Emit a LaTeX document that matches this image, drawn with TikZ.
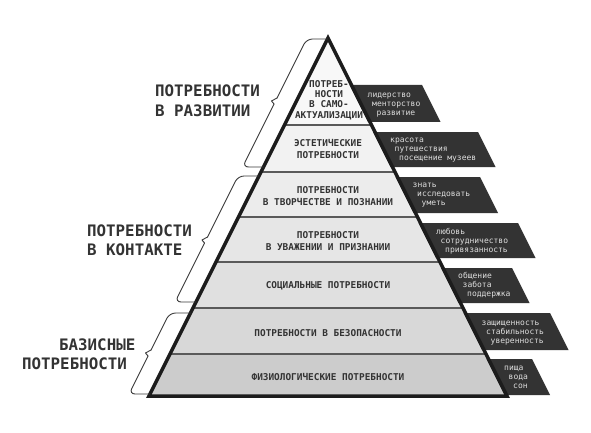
\documentclass[tikz,border=0pt]{standalone}
\usepackage{fontspec}
\newfontfamily\dmono{DejaVu Sans Mono}
\newcommand\layerfont{\dmono\bfseries\fontsize{9.4}{12}\selectfont}
\newcommand\toplayerfont{\dmono\bfseries\fontsize{9.4}{10.3}\selectfont}
\newcommand\tagfont{\dmono\fontsize{8}{9}\selectfont}
\newcommand\titlefont{\dmono\bfseries\fontsize{15.8}{19}\selectfont}
\newcommand\XL[1]{328-0.5*(#1-38)}
\newcommand\XR[1]{328+0.5*(#1-38)}
\definecolor{cA}{HTML}{F8F8F8}
\definecolor{cB}{HTML}{F2F2F2}
\definecolor{cC}{HTML}{ECECEC}
\definecolor{cD}{HTML}{E6E6E6}
\definecolor{cE}{HTML}{E0E0E0}
\definecolor{cF}{HTML}{D8D8D8}
\definecolor{cG}{HTML}{CCCCCC}
\definecolor{sepgray}{HTML}{5A5A5A}
\definecolor{outline}{HTML}{1C1C1C}
\definecolor{boxdark}{HTML}{333333}
\definecolor{tagtext}{HTML}{DDDDDD}
\definecolor{textdark}{HTML}{333333}
\definecolor{bracegray}{HTML}{3A3A3A}
\begin{document}
\begin{tikzpicture}[x=1pt,y=-1pt,
  sep/.style={draw=sepgray, line width=1.3pt},
  lbl/.style={font=\layerfont, text=textdark, align=center, inner sep=0pt},
  tag/.style={font=\tagfont, text=tagtext, anchor=base west, inner sep=0pt},
  ttl/.style={font=\titlefont, text=textdark, anchor=base west, inner sep=0pt},
  bracearm/.style={draw=bracegray, line width=0.9pt, rounded corners=6pt, line cap=round},
  bracetip/.style={draw=bracegray, line width=0.9pt, line cap=round, line join=round}
]
\useasboundingbox[fill=white] (0,0) rectangle (591,433);

% layers
\fill[cA] ({\XL{125}},125) -- (328,38) -- ({\XR{125}},125) -- cycle;
\foreach \a/\b/\c in {125/172/cB, 172/217/cC, 217/262/cD, 262/308/cE, 308/354/cF, 354/396/cG}
  \fill[\c] ({\XL{\a}},\a) -- ({\XR{\a}},\a) -- ({\XR{\b}},\b) -- ({\XL{\b}},\b) -- cycle;
\foreach \y in {125,172,217,262,308,354}
  \draw[sep] ({\XL{\y}},\y) -- ({\XR{\y}},\y);

% dark tag boxes
\foreach \t/\b/\r in {85/122/422, 132/167/478, 177/213/480, 223/258/518, 268/303/512, 313/350/550, 359/395/532}
  \fill[boxdark] ({\XR{\t}-2},\t) -- (\r,\t) -- ({\r+0.5*(\b-\t)},\b) -- ({\XR{\b}-2},\b) -- cycle;

% pyramid outline
\draw[draw=outline, line width=3.5pt, line join=miter] (149,396) -- (328,38) -- (507,396) -- cycle;

% layer labels
\node[lbl, font=\toplayerfont] (l1) at (329,100) {ПОТРЕБ-\\НОСТИ\\В САМО-\\АКТУАЛИЗАЦИИ};
\node[lbl] (l2) at (328,149) {ЭСТЕТИЧЕСКИЕ\\ПОТРЕБНОСТИ};
\node[lbl] (l3) at (328,196) {ПОТРЕБНОСТИ\\В ТВОРЧЕСТВЕ И ПОЗНАНИИ};
\node[lbl] (l4) at (328,241) {ПОТРЕБНОСТИ\\В УВАЖЕНИИ И ПРИЗНАНИИ};
\node[lbl] (l5) at (328,286) {СОЦИАЛЬНЫЕ ПОТРЕБНОСТИ};
\node[lbl] (l6) at (328,333) {ПОТРЕБНОСТИ В БЕЗОПАСНОСТИ};
\node[lbl] (l7) at (328,377) {ФИЗИОЛОГИЧЕСКИЕ ПОТРЕБНОСТИ};

% tag texts
\foreach \n/\y/\ta/\tb/\tc in {
  1/95/лидерство/менторство/развитие,
  2/140/красота/путешествия/посещение музеев,
  3/185/знать/исследовать/уметь,
  4/232/любовь/сотрудничество/привязанность,
  5/276/общение/забота/поддержка,
  6/323/защищенность/стабильность/уверенность,
  7/368/пища/вода/сон}{
  \node[tag] (t\n a) at ({\XR{\y}+11},{\y+2.5}) {\ta};
  \node[tag] (t\n b) at ({\XR{(\y+9)}+11},{\y+11.5}) {\tb};
  \node[tag] (t\n c) at ({\XR{(\y+18)}+11},{\y+20.5}) {\tc};
}

% braces
\foreach \yt/\yb/\yc in {39/167/101, 176/302/240, 313/394/353}{
  \draw[bracearm] ({\XL{\yt}},\yt) -- ({\XL{\yt}-21},\yt) -- ({\XL{(\yc-3)}-21},{\yc-3});
  \draw[bracetip] ({\XL{(\yc-3)}-21},{\yc-3}) -- ({\XL{\yc}-25},\yc) -- ({\XL{(\yc+3)}-21},{\yc+3});
  \draw[bracearm] ({\XL{(\yc+3)}-21},{\yc+3}) -- ({\XL{\yb}-21},\yb) -- ({\XL{\yb}},\yb);
}

% titles
\node[ttl] (h1a) at (155,97) {ПОТРЕБНОСТИ};
\node[ttl] (h1b) at (155,117) {В РАЗВИТИИ};
\node[ttl] (h2a) at (87,236) {ПОТРЕБНОСТИ};
\node[ttl] (h2b) at (87,255) {В КОНТАКТЕ};
\node[ttl] (h3a) at (59,350) {БАЗИСНЫЕ};
\node[ttl] (h3b) at (22,369) {ПОТРЕБНОСТИ};
\end{tikzpicture}
\end{document}
